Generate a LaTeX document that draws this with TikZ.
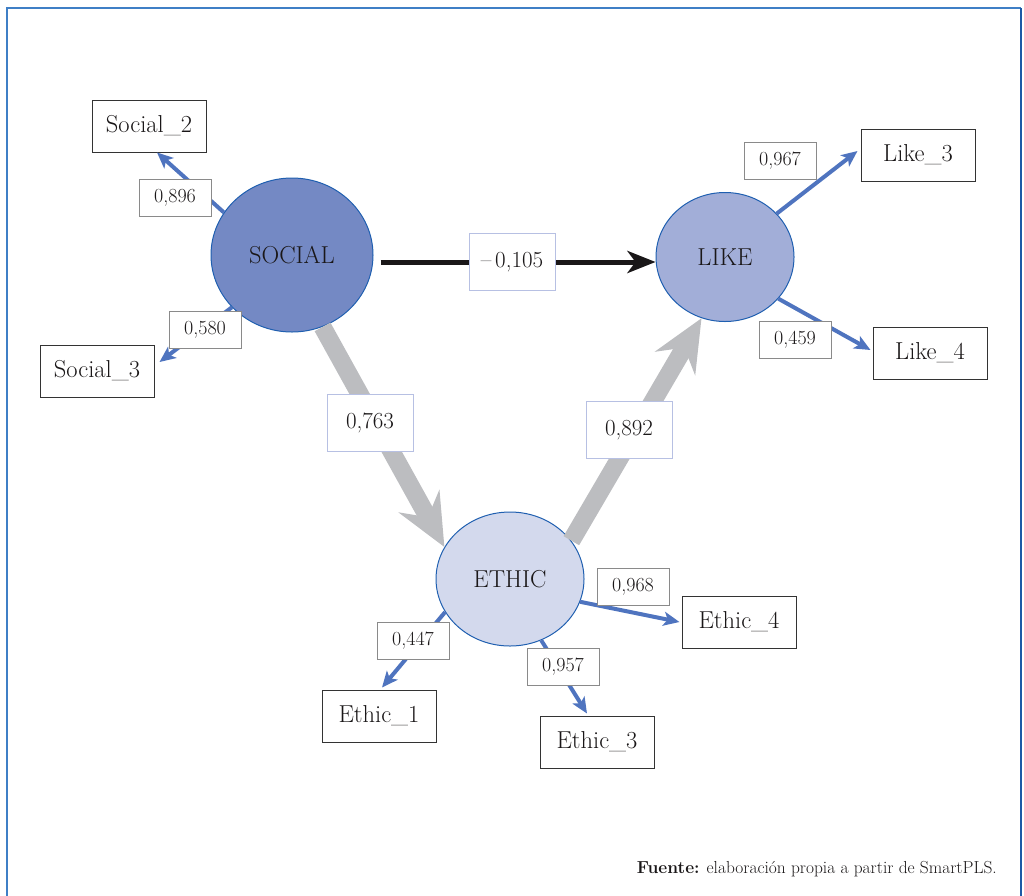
\documentclass[tikz,border=0pt]{standalone}
\usepackage{fontspec}
\usetikzlibrary{shapes.geometric,arrows.meta,calc}

\definecolor{frameblue}{HTML}{3F7FC6}
\definecolor{frameblue2}{HTML}{1D5AA6}
\definecolor{socfill}{HTML}{7489C4}
\definecolor{likefill}{HTML}{A2AED8}
\definecolor{ethfill}{HTML}{D3D9ED}
\definecolor{circline}{HTML}{1F5FB0}
\definecolor{loadblue}{HTML}{4F74BF}
\definecolor{pathgray}{HTML}{BCBDC0}
\definecolor{ink}{HTML}{1A1718}
\definecolor{tagline}{HTML}{B7C0E3}
\definecolor{boxline}{HTML}{333333}
\definecolor{smallline}{HTML}{8A8A8A}

\tikzset{
  latent/.style={ellipse, draw=circline, line width=1pt, inner sep=0pt,
    text=ink, font=\fontsize{24.5}{28}\selectfont},
  indicator/.style={rectangle, draw=boxline, line width=1pt, fill=white,
    minimum width=114pt, minimum height=52pt, inner sep=0pt,
    text=ink, font=\fontsize{24.5}{28}\selectfont},
  loadtag/.style={rectangle, draw=smallline, line width=1pt, fill=white,
    minimum width=72pt, minimum height=37pt, inner sep=0pt,
    text=ink, font=\fontsize{20}{24}\selectfont},
  pathtag/.style={rectangle, draw=tagline, line width=1pt, fill=white,
    minimum width=86pt, minimum height=57pt, inner sep=0pt,
    text=ink, font=\fontsize{23}{27}\selectfont},
  loading/.style={draw=loadblue, line width=4pt,
    -{Stealth[length=16pt,width=14pt,inset=4pt]}},
  structural/.style={draw=pathgray, line width=18pt,
    -{Stealth[length=52pt,width=46pt,inset=18pt]}},
  direct/.style={draw=ink, line width=5pt,
    -{Stealth[length=28pt,width=22pt,inset=8pt]}},
}

\begin{document}
\begin{tikzpicture}[x=1pt, y=-1pt]
  \useasboundingbox (0,0) rectangle (1024,895);
  \clip (0,0) rectangle (1024,895);

  % outer frame, open at the bottom
  \draw[frameblue, line width=2.5pt] (7,900) -- (7,8) -- (1021,8);
  \draw[frameblue2, line width=2.5pt] (1021,8) -- (1021,900);

  % latent variables
  \node[latent, fill=socfill, minimum width=162pt, minimum height=154pt] (soc) at (292,255) {SOCIAL};
  \node[latent, fill=likefill, minimum width=138pt, minimum height=129pt] (like) at (725,257) {LIKE};
  \node[latent, fill=ethfill, minimum width=148pt, minimum height=134pt] (eth) at (510,579) {ETHIC};

  % indicators
  \node[indicator] (s2) at (149,126) {Social\_2};
  \node[indicator] (s3) at (97,371) {Social\_3};
  \node[indicator] (l3) at (918,155) {Like\_3};
  \node[indicator] (l4) at (930,353) {Like\_4};
  \node[indicator] (e1) at (379,716) {Ethic\_1};
  \node[indicator] (e3) at (597,742) {Ethic\_3};
  \node[indicator] (e4) at (739,622) {Ethic\_4};

  % structural paths
  \draw[structural] (soc.-67) -- (eth.154);
  \draw[structural] (eth.32) -- (like.249);
  \coordinate (bs) at ([xshift=7pt,yshift=-7pt]soc.east);
  \draw[direct] (bs) -- (bs -| like.west);

  % outer loadings
  \draw[loading] (soc.148) -- ([xshift=8pt]s2.south);
  \draw[loading] (soc.221) -- ([xshift=5pt,yshift=9pt]s3.east);
  \draw[loading] (like.40) -- ([xshift=-3pt,yshift=4pt]l3.west);
  \draw[loading] (like.-38) -- ([xshift=-2pt,yshift=3pt]l4.west);
  \draw[loading] (eth.207) -- ([xshift=3pt,yshift=2pt]e1.north);
  \draw[loading] (eth.-63) -- ([xshift=-10pt,yshift=2pt]e3.north);
  \draw[loading] (eth.-18) -- ([xshift=-2pt]e4.west);

  % coefficient labels
  \node[pathtag] (t763) at (370,423) {0,763};
  \node[pathtag] (t892) at (629,430) {0,892};
  \node[pathtag] (t105) at (512,262) {–\,0,105};
  \node[loadtag] (t896) at (175,198) {0,896};
  \node[loadtag] (t580) at (205,330) {0,580};
  \node[loadtag] (t967) at (780,161) {0,967};
  \node[loadtag] (t459) at (795,340) {0,459};
  \node[loadtag] (t447) at (413,641) {0,447};
  \node[loadtag] (t957) at (563,667) {0,957};
  \node[loadtag] (t968) at (633,587) {0,968};

  % source note
  \node[anchor=base east, inner sep=0pt, text=ink, font=\fontsize{17.4}{21}\selectfont]
    (src) at (997,873) {\textbf{Fuente:} elaboración propia a partir de SmartPLS.};
\end{tikzpicture}
\end{document}
